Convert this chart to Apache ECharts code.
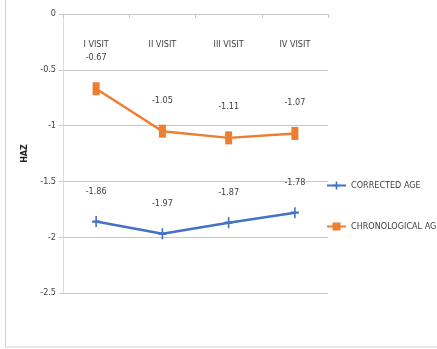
<!DOCTYPE html>
<html>
<head>
<meta charset="utf-8">
<script src="https://cdn.jsdelivr.net/npm/echarts@6/dist/echarts.min.js"></script>
<style>
html,body{margin:0;padding:0;background:#fff;}
#c{width:437px;height:349px;}
</style>
</head>
<body>
<div id="c"></div>
<script>
var categories = ['I VISIT', 'II VISIT', 'III VISIT', 'IV VISIT'];
var correctedAge = [-1.86, -1.97, -1.87, -1.78];
var chronologicalAge = [-0.67, -1.05, -1.11, -1.07];
var seriesNames = ['CORRECTED AGE', 'CHRONOLOGICAL AGE'];
var yTicks = { min: -2.5, max: 0, interval: 0.5 };

var FONT = '"Liberation Sans Narrow", "DejaVu Sans Condensed", sans-serif';
var chart = echarts.init(document.getElementById('c'));
chart.setOption({
  animation: false,
  backgroundColor: '#fff',
  graphic: [{
    type: 'rect', silent: true,
    shape: { x: 5.5, y: -5, width: 440, height: 352 },
    style: { fill: 'none', stroke: '#d0d0d0', lineWidth: 1 }
  }],
  grid: { left: 63, right: 109, top: 14, bottom: 56, containLabel: false },
  legend: {
    orient: 'vertical',
    left: 321, top: 176,
    itemWidth: 19, itemHeight: 10, itemGap: 32,
    textStyle: { fontFamily: FONT, fontSize: 9, color: '#404040' },
    data: seriesNames
  },
  xAxis: {
    type: 'category',
    position: 'top',
    data: categories,
    boundaryGap: true,
    axisLine: { show: true, lineStyle: { color: '#c8c8c8', width: 1 } },
    axisTick: { show: true, inside: true, length: 4, lineStyle: { color: '#c8c8c8' } },
    axisLabel: { inside: true, margin: 26, fontFamily: FONT, fontSize: 9, color: '#404040' },
    splitLine: { show: false }
  },
  yAxis: {
    type: 'value',
    min: yTicks.min, max: yTicks.max, interval: yTicks.interval,
    name: 'HAZ',
    nameLocation: 'middle',
    nameGap: 21,
    nameRotate: 90,
    nameTextStyle: { fontFamily: '"DejaVu Sans", sans-serif', fontSize: 8, fontWeight: 'bold', color: '#222' },
    axisLine: { show: true, lineStyle: { color: '#dcdcdc' } },
    axisTick: { show: true, length: 4, lineStyle: { color: '#c8c8c8' } },
    axisLabel: { fontFamily: FONT, fontSize: 9, color: '#404040', margin: 7 },
    splitLine: { show: true, lineStyle: { color: '#c8c8c8', width: 1 } }
  },
  series: [
    {
      name: seriesNames[0],
      type: 'line',
      data: correctedAge,
      symbol: 'path://M4,0 L6,0 L6,4 L10,4 L10,6 L6,6 L6,10 L4,10 L4,6 L0,6 L0,4 L4,4 Z',
      symbolSize: [8, 11],
      lineStyle: { color: '#4472c4', width: 2.5 },
      itemStyle: { color: '#4472c4' },
      label: { show: true, position: 'top', distance: 20, fontFamily: FONT, fontSize: 9, color: '#404040' }
    },
    {
      name: seriesNames[1],
      type: 'line',
      data: chronologicalAge,
      symbol: 'rect',
      symbolSize: [7, 13],
      lineStyle: { color: '#ed7d31', width: 2.5 },
      itemStyle: { color: '#ed7d31' },
      label: { show: true, position: 'top', distance: 20, fontFamily: FONT, fontSize: 9, color: '#404040' }
    }
  ]
});
</script>
</body>
</html>
